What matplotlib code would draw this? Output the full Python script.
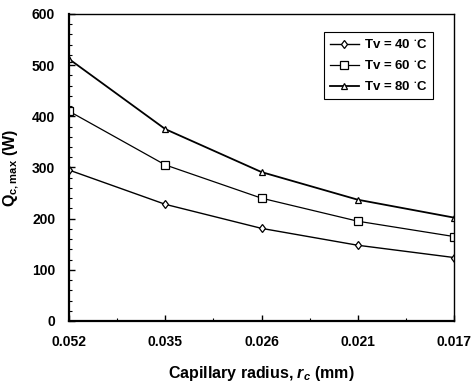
import matplotlib
matplotlib.use("Agg")
import matplotlib.pyplot as plt
from matplotlib.ticker import MultipleLocator

plt.rcParams['font.family'] = ['Liberation Sans', 'DejaVu Sans']
plt.rcParams['font.weight'] = 'bold'
plt.rcParams['mathtext.fontset'] = 'custom'
plt.rcParams['mathtext.rm'] = 'Liberation Sans:bold'
plt.rcParams['mathtext.it'] = 'Liberation Sans:bold:italic'
plt.rcParams['mathtext.bf'] = 'Liberation Sans:bold'

# data
radius_labels = ['0.052', '0.035', '0.026', '0.021', '0.017']
q_40 = [295, 228, 181, 148, 124]
q_60 = [410, 305, 240, 195, 165]
q_80 = [512, 375, 291, 237, 202]

x = list(range(len(radius_labels)))

fig = plt.figure(figsize=(4.77, 3.82), dpi=100)
ax = fig.add_axes([0.1447, 0.1597, 0.8073, 0.8037])

ax.plot(x, q_40, color='black', linewidth=1.0, marker='d', markersize=4.5,
        markerfacecolor='white', markeredgecolor='black', markeredgewidth=0.9,
        label='Tv = 40 $^{\\bullet}$C')
ax.plot(x, q_60, color='black', linewidth=0.9, marker='s', markersize=5.5,
        markerfacecolor='white', markeredgecolor='black', markeredgewidth=0.9,
        label='Tv = 60 $^{\\bullet}$C')
ax.plot(x, q_80, color='black', linewidth=1.3, marker='^', markersize=5,
        markerfacecolor='white', markeredgecolor='black', markeredgewidth=0.9,
        label='Tv = 80 $^{\\bullet}$C')

ax.set_xlim(0, 4)
ax.set_ylim(0, 600)
ax.set_xticks(x)
ax.set_xticklabels(radius_labels)
ax.yaxis.set_major_locator(MultipleLocator(100))
ax.yaxis.set_minor_locator(MultipleLocator(20))
ax.xaxis.set_minor_locator(MultipleLocator(0.5))
ax.tick_params(axis='x', which='major', direction='in', length=4, width=1,
               labelsize=10, pad=10)
ax.tick_params(axis='y', which='major', direction='in', length=4, width=1,
               labelsize=10, pad=10)
ax.tick_params(axis='both', which='minor', direction='in', length=2, width=0.8)
for lab in ax.get_xticklabels() + ax.get_yticklabels():
    lab.set_fontweight('bold')

for side in ['left', 'bottom']:
    ax.spines[side].set_linewidth(1.6)
for side in ['top', 'right']:
    ax.spines[side].set_linewidth(1.0)

ax.set_xlabel('Capillary radius, $r_c$ (mm)', fontsize=11.5, fontweight='bold', labelpad=11)
ax.set_ylabel('$\\mathrm{Q_{c,max}}$ (W)', fontsize=11.5, fontweight='bold', labelpad=8)

leg = ax.legend(loc='upper right', bbox_to_anchor=(0.945, 0.94), fontsize=9.5,
                fancybox=False, edgecolor='black', framealpha=1,
                handlelength=2.2, handletextpad=0.4, borderpad=0.45,
                borderaxespad=0.0, labelspacing=0.6)
leg.get_frame().set_linewidth(0.8)
for t in leg.get_texts():
    t.set_fontweight('bold')

fig.savefig('out.png', dpi=100)
